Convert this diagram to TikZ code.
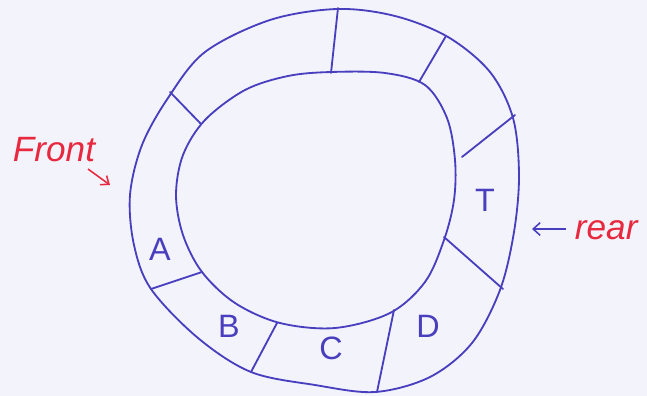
\documentclass[tikz,border=0pt]{standalone}
\usepackage{fontspec}
\setmainfont{Liberation Sans}
\usepackage{xcolor}
\usepackage{tikz}
\usetikzlibrary{arrows.meta}

\definecolor{ink}{RGB}{72,62,190}
\definecolor{redink}{RGB}{232,40,62}
\definecolor{paper}{RGB}{243,243,251}

\begin{document}
\begin{tikzpicture}[x=0.025cm, y=-0.025cm,
      ring/.style={draw=ink, line width=1.3pt, line join=round},
      cut/.style={draw=ink, line width=1.3pt, line cap=round},
      slot/.style={text=ink, font=\fontsize{23}{26}\selectfont},
      tag/.style={text=redink, font=\fontsize{25}{28}\selectfont\itshape},
      tagarr/.style={-{Straight Barb[length=5pt,width=8pt]}, draw=redink, line width=1.1pt},
      rarr/.style={-{Straight Barb[length=5pt,width=9pt]}, draw=ink, line width=1.1pt}
    ]

    %% ---- paper ----
    \fill[paper] (0,0) rectangle (647,396);
    \useasboundingbox (0,0) rectangle (647,396);

    %% ---- outer and inner rings ----
    \draw[ring] plot[smooth cycle, tension=0.55] coordinates {
        (337,9) (395,16) (448,37) (490,72) (513,118) (519,175)
        (514,232) (500,290) (472,343) (430,377) (375,392) (315,385)
        (251,372) (198,338) (151,289) (134,245) (130,195) (142,145)
        (168,98) (205,52) (270,20)};
    \draw[ring] plot[smooth cycle, tension=0.55] coordinates {
        (331,72) (385,73) (425,85) (447,118) (455,160) (454,200)
        (444,240) (425,282) (390,313) (335,328) (280,323) (235,303)
        (202,272) (183,235) (176,195) (183,155) (205,120) (245,90)
        (288,76)};

    %% ---- slot boundaries (outer end -- inner end) ----
    \coordinate (o1) at (170,92);  \coordinate (i1) at (201,124);
    \coordinate (o2) at (338,8);   \coordinate (i2) at (331,73);
    \coordinate (o3) at (446,36);  \coordinate (i3) at (419,82);
    \coordinate (o4) at (515,115); \coordinate (i4) at (462,157);
    \coordinate (o5) at (503,289); \coordinate (i5) at (444,237);
    \coordinate (o6) at (377,392); \coordinate (i6) at (394,310);
    \coordinate (o7) at (251,372); \coordinate (i7) at (277,323);
    \coordinate (o8) at (151,289); \coordinate (i8) at (202,272);
    \foreach \k in {1,...,8}
      \draw[cut] (o\k) -- (i\k);

    %% ---- filled slots ----
    \node[slot] (sa) at (160,249) {A};
    \node[slot] (sb) at (229,326) {B};
    \node[slot] (sc) at (331,348) {C};
    \node[slot] (sd) at (428,326) {D};
    \node[slot] (st) at (485,200) {T};

    %% ---- pointers ----
    \node[tag] (front) at (54,150) {Front};
    \coordinate (fa) at (88,169);
    \coordinate (fb) at (110,185);
    \draw[tagarr] (fa) -- (fb);

    \node[tag, anchor=west] (rear) at (570,230) {rear};
    \coordinate (ra) at (566,229);
    \coordinate (rb) at (532,229);
    \draw[rarr] (ra) -- (rb);

  \end{tikzpicture}
\end{document}
